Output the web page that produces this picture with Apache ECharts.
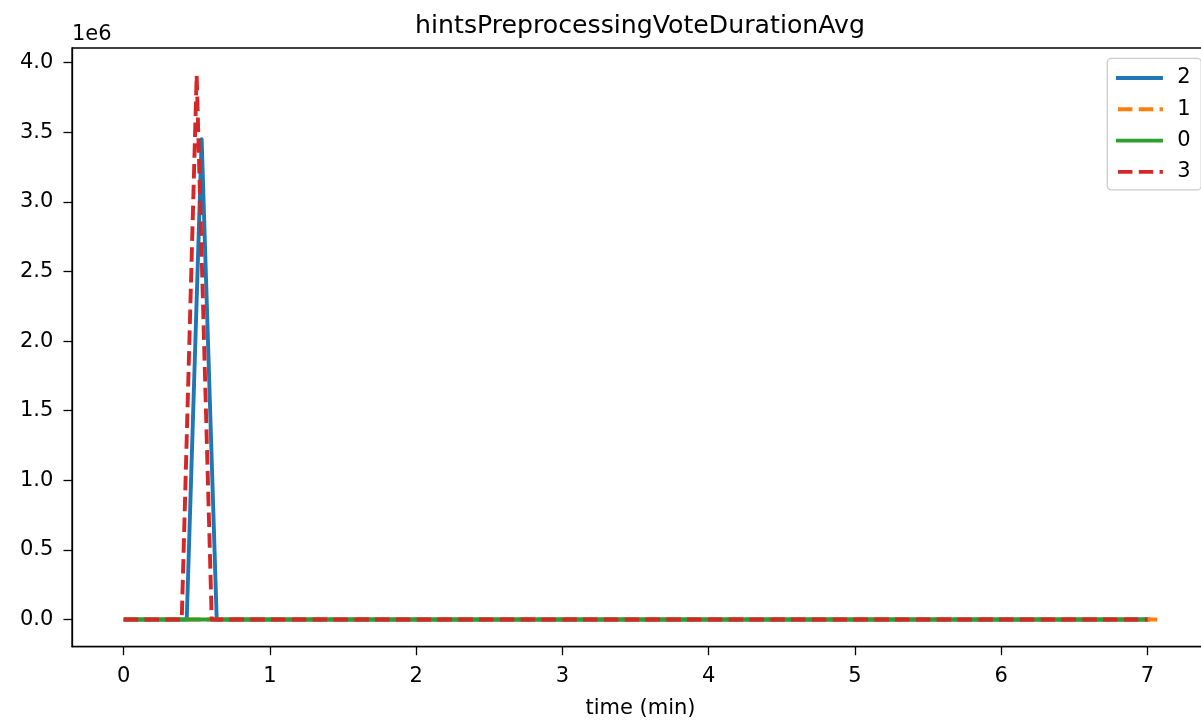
<!DOCTYPE html>
<html>
<head>
<meta charset="utf-8">
<script src="https://cdn.jsdelivr.net/npm/echarts@6/dist/echarts.min.js"></script>
<style>
html,body{margin:0;padding:0;background:#fff;overflow:hidden;width:1201px;height:721px;}
#c{width:1209px;height:721px;}
</style>
</head>
<body>
<div id="c"></div>
<script>
// Values (time in minutes, value raw)
const seriesNames = ['2', '1', '0', '3'];
const s2 = [[0, 0], [0.431, 0], [0.533, 3450000], [0.636, 0], [7.02, 0]];
const s1 = [[0, 0], [7.067, 0]];
const s0 = [[0, 0], [7.0, 0]];
const s3 = [[0, 0], [0.397, 0], [0.499, 3910000], [0.602, 0], [7.0, 0]];
const xTicks = [0, 1, 2, 3, 4, 5, 6, 7];
const yTicks = [0, 500000, 1000000, 1500000, 2000000, 2500000, 3000000, 3500000, 4000000];

const FONT = 'DejaVu Sans';
const colors = ['#1f77b4', '#ff7f0e', '#2ca02c', '#d62728'];
const dashed = [14.5, 6.3];
const dataList = [s2, s1, s0, s3];
const styles = ['solid', dashed, 'solid', dashed];
const LW = 3.9;

const chart = echarts.init(document.getElementById('c'), null, {renderer: 'canvas'});
chart.setOption({
  animation: false,
  backgroundColor: '#fff',
  title: {
    text: 'hintsPreprocessingVoteDurationAvg',
    left: 640, textAlign: 'center',
    top: 14,
    padding: 0,
    textStyle: {fontFamily: FONT, fontSize: 25.2, fontWeight: 'normal', color: '#000'}
  },
  grid: {
    left: 72, top: 48, bottom: 74.3, right: 0,
    outerBoundsMode: 'none',
    containLabel: false,
    show: true, borderColor: '#000', borderWidth: 1.3, backgroundColor: 'transparent'
  },
  legend: {
    orient: 'vertical',
    left: 1107.3, top: 58.3,
    data: seriesNames,
    itemWidth: 47, itemHeight: 21, itemGap: 10.3,
    padding: [9.2, 10.6, 7.5, 6.7],
    borderColor: '#cccccc', borderWidth: 1.3, borderRadius: 4,
    backgroundColor: 'rgba(255,255,255,0.8)',
    itemStyle: {opacity: 0},
    lineStyle: {width: LW, dashOffset: 18.8},
    textStyle: {fontFamily: FONT, fontSize: 21, color: '#000', lineHeight: 21, padding: [0, 0, 0, 9.3]}
  },
  xAxis: {
    type: 'value',
    min: -0.3534, max: 7.4204,
    name: 'time (min)', nameLocation: 'middle', nameGap: 51,
    nameTextStyle: {fontFamily: FONT, fontSize: 21, color: '#000'},
    axisLine: {show: true, onZero: false, lineStyle: {color: '#000', width: 1.3}},
    axisTick: {show: true, length: 8.5, lineStyle: {color: '#000', width: 1.3}, customValues: xTicks},
    axisLabel: {fontFamily: FONT, fontSize: 21, color: '#000', margin: 19.5, customValues: xTicks,
      formatter: v => String(v)},
    splitLine: {show: false}
  },
  yAxis: {
    type: 'value',
    min: -195500, max: 4105500,
    name: '1e6', nameLocation: 'end', nameGap: 3,
    nameTextStyle: {fontFamily: FONT, fontSize: 21, color: '#000', align: 'left', verticalAlign: 'bottom'},
    axisLine: {show: true, onZero: false, lineStyle: {color: '#000', width: 1.3}},
    axisTick: {show: true, length: 8.5, lineStyle: {color: '#000', width: 1.3}, customValues: yTicks},
    axisLabel: {fontFamily: FONT, fontSize: 21, color: '#000', margin: 18.7, customValues: yTicks,
      formatter: v => (v / 1e6).toFixed(1)},
    splitLine: {show: false}
  },
  series: seriesNames.map((n, i) => ({
    name: n,
    type: 'line',
    data: dataList[i],
    symbol: 'none',
    showSymbol: false,
    clip: true,
    color: colors[i],
    lineStyle: {color: colors[i], width: LW, type: styles[i], cap: 'butt', join: 'round'},
    z: 2 + i
  }))
});
</script>
</body>
</html>
